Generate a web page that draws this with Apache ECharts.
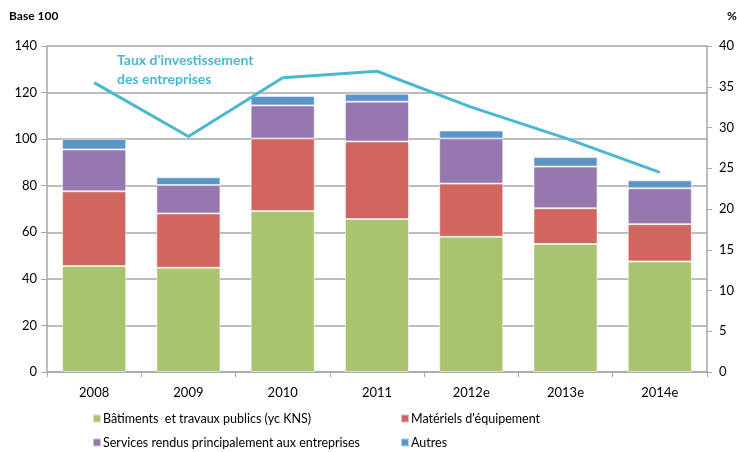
<!DOCTYPE html>
<html>
<head>
<meta charset="UTF-8">
<title>Investissement des entreprises</title>
<script src="https://cdn.jsdelivr.net/npm/echarts@6/dist/echarts.min.js"></script>
<style>
  body { margin: 0; background: #fff; }
  #chart { width: 737px; height: 452px; }
</style>
</head>
<body>
<div id="chart"></div>
<script>
// données
const years = ['2008', '2009', '2010', '2011', '2012e', '2013e', '2014e'];
const btp = [45.5, 44.8, 69.1, 65.7, 58.1, 55.0, 47.5];
const materiels = [32.1, 23.3, 31.2, 33.3, 22.8, 15.3, 16.0];
const services = [18.0, 12.2, 14.2, 17.1, 19.4, 17.9, 15.4];
const autres = [4.5, 3.3, 4.0, 3.4, 3.4, 4.1, 3.4];
const tauxInvest = [35.5, 28.9, 36.1, 36.9, 32.5, 28.7, 24.5];

const font = 'Lato, "Open Sans", sans-serif';
const gridColor = '#a6a6a6';

const chart = echarts.init(document.getElementById('chart'));

function barSerie(name, data, color) {
    return {
        name: name,
        type: 'bar',
        stack: 'total',
        data: data,
        barCategoryGap: '32%',
        itemStyle: { color: color, borderColor: 'rgba(255,255,255,0.55)', borderWidth: 1 },
        emphasis: { disabled: true }
    };
}

function legendCol(items, left) {
    return {
        data: items,
        orient: 'vertical', left: left, top: 412, height: 40,
        padding: 0, itemGap: 11,
        itemWidth: 8, itemHeight: 8, icon: 'rect',
        textStyle: { fontFamily: font, fontSize: 12.5, color: '#000', padding: [0, 0, 0, -3] }
    };
}

chart.setOption({
    animation: false,
    textStyle: { fontFamily: font },
    grid: { left: 47, right: 20, top: 46, bottom: 80 },
    legend: [
        legendCol(['Bâtiments  et travaux publics (yc KNS)', 'Services rendus principalement aux entreprises'], 92),
        legendCol(['Matériels d\'équipement', 'Autres'], 400)
    ],
    xAxis: {
        type: 'category',
        data: years,
        axisLine: { lineStyle: { color: gridColor, width: 1.5 } },
        axisTick: { show: true, length: 5, lineStyle: { color: gridColor } },
        axisLabel: { color: '#000', fontSize: 13, margin: 14, fontFamily: font }
    },
    yAxis: [
        {
            type: 'value', min: 0, max: 140, interval: 20,
            axisLine: { show: true, lineStyle: { color: gridColor, width: 1.5 } },
            axisTick: { show: true, length: 6, lineStyle: { color: gridColor } },
            axisLabel: { color: '#000', fontSize: 13, margin: 10, fontFamily: font },
            splitLine: { lineStyle: { color: gridColor, width: 1.5 } }
        },
        {
            type: 'value', min: 0, max: 40, interval: 5,
            position: 'right',
            axisLine: { show: true, lineStyle: { color: gridColor, width: 1.5 } },
            axisTick: { show: true, length: 5, lineStyle: { color: gridColor } },
            axisLabel: { color: '#000', fontSize: 13, margin: 12, fontFamily: font },
            splitLine: { show: false }
        }
    ],
    series: [
        barSerie('Bâtiments  et travaux publics (yc KNS)', btp, '#a8c46e'),
        barSerie('Matériels d\'équipement', materiels, '#d0665f'),
        barSerie('Services rendus principalement aux entreprises', services, '#9678af'),
        barSerie('Autres', autres, '#5b94c8'),
        {
            name: 'Taux d\'investissement des entreprises',
            type: 'line',
            yAxisIndex: 1,
            data: tauxInvest,
            symbol: 'none',
            lineStyle: { color: '#4bb8d2', width: 3 },
            z: 5
        }
    ],
    graphic: [
        {
            type: 'text', left: 9, top: 10,
            style: { text: 'Base 100', font: 'bold 12px ' + font, fill: '#000' }
        },
        {
            type: 'text', left: 727, top: 10,
            style: { text: '%', font: 'bold 12px ' + font, fill: '#000' }
        },
        {
            type: 'text', left: 117, top: 51,
            style: {
                text: 'Taux d\'investissement\ndes entreprises',
                font: 'bold 14px ' + font, fill: '#4bb8d2', lineHeight: 19
            }
        }
    ]
});
</script>
</body>
</html>
